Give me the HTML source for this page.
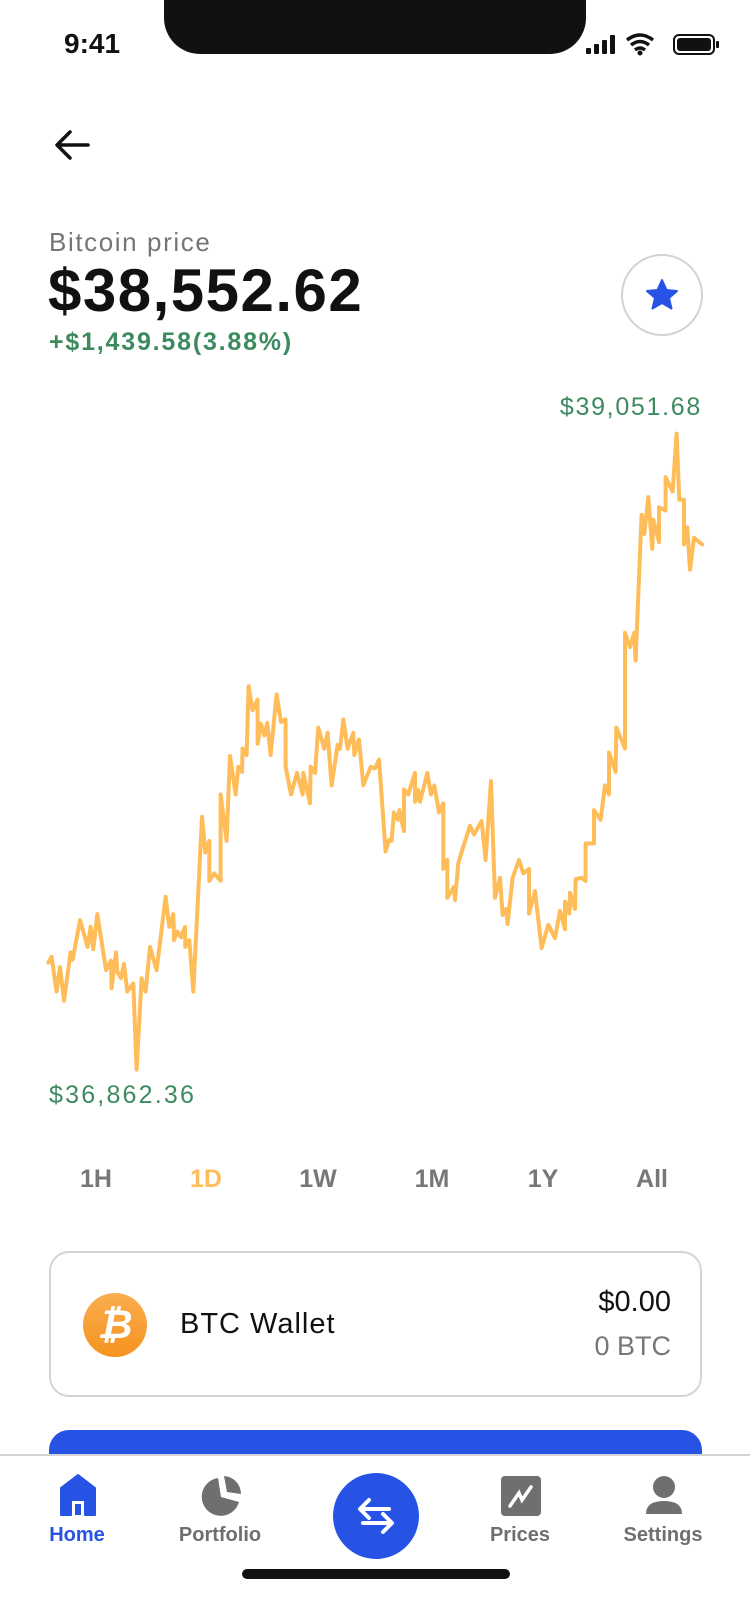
<!DOCTYPE html>
<html><head><meta charset="utf-8">
<style>
*{margin:0;padding:0;box-sizing:border-box}
body{width:750px;height:1624px;background:#fff;font-family:"Liberation Sans",sans-serif;position:relative;overflow:hidden}
.abs{position:absolute}
.tab{position:absolute;top:1165px;width:80px;margin-left:-40px;text-align:center;font-size:25px;font-weight:bold;color:#777}
.nav-label{position:absolute;top:1524px;width:120px;margin-left:-60px;text-align:center;font-size:20px;font-weight:bold;color:#6f6f6f}
</style></head><body>
<div class="abs" style="left:64px;top:28px;font-size:28px;font-weight:bold;color:#111">9:41</div>
<div class="abs" style="left:164px;top:-10px;width:422px;height:64px;background:#111;border-radius:0 0 36px 36px"></div>
<svg class="abs" style="left:585px;top:32px" width="135" height="28">
<rect x="1" y="16" width="5" height="6" rx="1" fill="#111"/><rect x="9" y="12" width="5" height="10" rx="1" fill="#111"/><rect x="17" y="8" width="5" height="14" rx="1" fill="#111"/><rect x="25" y="3" width="5" height="19" rx="1" fill="#111"/>
<path d="M42 8 Q55 -2 68 8 M46 13 Q55 6 64 13 M50 18 Q55 14 60 18" stroke="#111" stroke-width="3.5" fill="none"/><circle cx="55" cy="21" r="2.5" fill="#111"/>
<rect x="89" y="3" width="40" height="19" rx="5" fill="none" stroke="#111" stroke-width="2"/><rect x="92" y="6" width="34" height="13" rx="3" fill="#111"/><rect x="131" y="9" width="3" height="7" rx="1" fill="#111"/>
</svg>
<svg class="abs" style="left:52px;top:128px" width="40" height="36"><path d="M36 17 H6 M18 4 L5 17 L18 30" stroke="#111" stroke-width="3.5" fill="none" stroke-linecap="round" stroke-linejoin="round"/></svg>
<div class="abs" style="left:49px;top:227px;font-size:26px;color:#757575;letter-spacing:1.6px">Bitcoin price</div>
<div class="abs" style="left:48px;top:256px;font-size:60px;font-weight:bold;color:#111;letter-spacing:1.5px">$38,552.62</div>
<div class="abs" style="left:49px;top:328px;font-size:25px;font-weight:bold;color:#3d8a5f;letter-spacing:1.8px">+$1,439.58(3.88%)</div>
<div class="abs" style="left:621px;top:254px;width:82px;height:82px;border:2px solid #d2d2d2;border-radius:50%">
<svg width="78" height="78"><polygon points="39,24 43.5,34 54,35 46,42 48.5,52.5 39,47 29.5,52.5 32,42 24,35 34.5,34" fill="#2753e5" stroke="#2753e5" stroke-width="2" stroke-linejoin="round"/></svg></div>
<div class="abs" style="right:48px;top:393px;font-size:25px;color:#3d8a5f;letter-spacing:1.7px">$39,051.68</div>
<div class="abs" style="left:49px;top:1081px;font-size:25px;color:#3d8a5f;letter-spacing:2.2px">$36,862.36</div>
<svg class="abs" id="chart" style="left:0;top:0" width="750" height="1120"></svg>
<div class="tab" style="left:96px">1H</div>
<div class="tab" style="left:206px;color:#ffbd59">1D</div>
<div class="tab" style="left:318px">1W</div>
<div class="tab" style="left:432px">1M</div>
<div class="tab" style="left:543px">1Y</div>
<div class="tab" style="left:652px">All</div>
<div class="abs" style="left:49px;top:1251px;width:653px;height:146px;border:2px solid #d4d4d4;border-radius:20px">
<div class="abs" style="left:32px;top:40px;width:64px;height:64px;border-radius:50%;background:linear-gradient(#f9ad4f,#f6931e);color:#fff;font-size:40px;font-weight:bold;text-align:center;line-height:64px;font-style:italic">&#8383;</div>
<div class="abs" style="left:129px;top:55px;font-size:29px;color:#111;letter-spacing:1px">BTC Wallet</div>
<div class="abs" style="right:29px;top:33px;font-size:29px;color:#111">$0.00</div>
<div class="abs" style="right:29px;top:78px;font-size:27px;color:#777">0 BTC</div>
</div>
<div class="abs" style="left:49px;top:1430px;width:653px;height:40px;background:#2753e5;border-radius:20px 20px 0 0"></div>
<div class="abs" style="left:0;top:1454px;width:750px;height:170px;background:#fff;border-top:2px solid #d4d4d4"></div>
<svg class="abs" style="left:59px;top:1474px" width="38" height="42"><path d="M2 14 L19 1 L36 14 V41 H26 V26 H12 V41 H2 Z" fill="#2753e5" stroke="#2753e5" stroke-linejoin="round" stroke-width="2"/><rect x="14" y="28" width="10" height="13" fill="#fff"/><rect x="16" y="30" width="6" height="11" fill="#2753e5"/></svg>
<div class="nav-label" style="left:77px;color:#2753e5">Home</div>
<svg class="abs" style="left:199px;top:1475px" width="44" height="42"><path d="M19 3 A19 19 0 1 0 40 27 L22 22 Z" fill="#6f6f6f"/><path d="M25 1 A18 18 0 0 1 42 19 L28 17 Z" fill="#6f6f6f"/></svg>
<div class="nav-label" style="left:220px">Portfolio</div>
<div class="abs" style="left:333px;top:1473px;width:86px;height:86px;border-radius:50%;background:#2753e5">
<svg width="86" height="86"><path d="M56 36 H28 M36 27 L27 36 L36 45 M30 50 H58 M50 41 L59 50 L50 59" stroke="#fff" stroke-width="4" fill="none" stroke-linecap="round" stroke-linejoin="round"/></svg></div>
<svg class="abs" style="left:500px;top:1475px" width="42" height="42"><rect x="1" y="1" width="40" height="40" rx="4" fill="#6f6f6f"/><path d="M10 31 L19 18 L22 25 L31 12" stroke="#fff" stroke-width="3.5" fill="none" stroke-linecap="round"/></svg>
<div class="nav-label" style="left:520px">Prices</div>
<svg class="abs" style="left:645px;top:1475px" width="38" height="42"><circle cx="19" cy="12" r="11" fill="#6f6f6f"/><path d="M1 39 Q1 26 19 26 Q37 26 37 39 Z" fill="#6f6f6f"/></svg>
<div class="nav-label" style="left:663px">Settings</div>
<div class="abs" style="left:242px;top:1569px;width:268px;height:10px;border-radius:5px;background:#111"></div>
<script>
const times=[145,155,170,180,192,212,218,240,263,272,280,292,318,333,335,348,352,363,372,382,400,410,425,437,450,470,497,508,520,522,532,543,555,556,568,580,606,616,628,628,643,662,662,680,690,707,715,726,728,740,746,758,773,773,783,793,802,812,830,843,857,857,873,891,908,910,930,932,945,955,973,983,995,1013,1020,1030,1043,1060,1063,1077,1090,1112,
1125,1137,1157,1167,1175,1182,1195,1198,1212,1212,1225,1245,1245,1255,1260,1282,1293,1303,1317,1330,1330,1342,1342,1362,1365,1375,1390,1410,1422,1445,1457,1473,1485,1500,1508,1518,1523,1538,1557,1570,1587,1587,1605,1625,1645,1665,1680,1695,1695,1708,1710,1725,1727,1745,1757,1757,1782,1782,1802,1815,1827,1827,1847,1849,1875,1875,1890,1903,1907,1925,1933,1945,1957,1960,1977,1977,1997,1997,2018,2030,2038,2052,2052,2062,2070,2082,2107];
const prices=[37231,37251,37131,37215,37100,37266,37241,37377,37285,37354,37277,37398,37205,37238,37143,37266,37200,37177,37226,37131,37159,36862.36,37177,37131,37285,37205,37457,37354,37398,37308,37338,37318,37354,37285,37308,37131,37733,37610,37650,37512,37538,37512,37810,37650,37942,37810,37905,37887,37968,37945,38182,38099,38136,37984,38053,38013,38056,37945,38154,38059,38068,37905,37810,37884,37810,37884,37779,37905,37884,38040,37967,38022,37841,37980,37967,38068,37967,38022,37945,37999,37841,37905,
37899,37930,37613,37653,37650,37748,37722,37756,37684,37827,37810,37884,37784,37825,37784,37884,37810,37841,37748,37779,37553,37584,37454,37492,37446,37573,37630,37702,37672,37718,37584,37856,37454,37523,37395,37415,37364,37523,37584,37538,37553,37400,37477,37281,37361,37315,37410,37346,37441,37400,37472,37415,37518,37523,37512,37641,37641,37756,37722,37841,37810,37954,37887,38040,37968,38366,38317,38366,38271,38772,38706,38833,38655,38756,38678,38798,38787,38902,38852,39051.68,38824,38824,38670,38729,38583,38693,38670];
const yDomain=[36862.36,39051.68];
const xScale=t=>48.3+(t-times[0])/(times[times.length-1]-times[0])*654;
const yScale=p=>1069.7-(p-yDomain[0])/(yDomain[1]-yDomain[0])*636.1;
const svg=document.getElementById('chart');
const pl=document.createElementNS('http://www.w3.org/2000/svg','polyline');
pl.setAttribute('points',times.map((t,i)=>xScale(t).toFixed(1)+','+yScale(prices[i]).toFixed(1)).join(' '));
pl.setAttribute('fill','none');pl.setAttribute('stroke','#ffbd59');pl.setAttribute('stroke-width','4');
pl.setAttribute('stroke-linejoin','round');pl.setAttribute('stroke-linecap','round');


svg.appendChild(pl);
</script>
</body></html>
